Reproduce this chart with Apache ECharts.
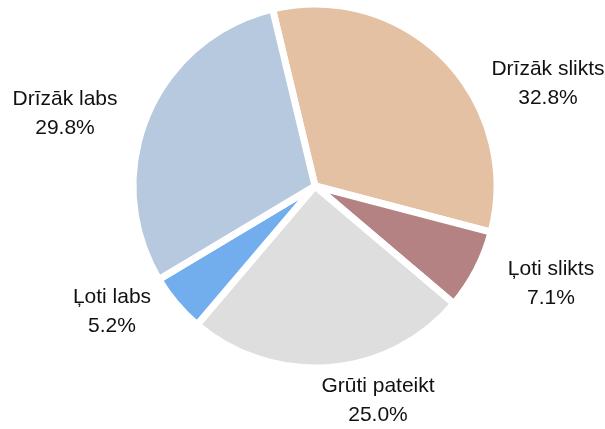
<html>
<head>
<meta charset="utf-8">
<script src="https://cdn.jsdelivr.net/npm/echarts@6/dist/echarts.min.js"></script>
<style>
  body { margin: 0; background: #fff; }
  #main { width: 605px; height: 429px; }
</style>
</head>
<body>
<div id="main"></div>
<script type="text/javascript">
// answers, clockwise from the top
var categories = ['Drīzāk slikts', 'Ļoti slikts', 'Grūti pateikt', 'Ļoti labs', 'Drīzāk labs'];
var shares = [32.8, 7.1, 25.0, 5.2, 29.8];
var colors = ['#E3C1A2', '#B48282', '#DEDEDE', '#72AEEE', '#B7C9DE'];

// where each label block is centred
var labelSpots = [[548, 84], [551, 284], [378, 401], [112, 312], [65, 114]];

var myChart = echarts.init(document.getElementById('main'));

var option = {
  animation: false,
  backgroundColor: '#fff',
  series: [{
    type: 'pie',
    center: [315, 186],
    radius: [0, 182],
    startAngle: 103.5,
    clockwise: true,
    avoidLabelOverlap: false,
    itemStyle: {
      borderColor: '#fff',
      borderWidth: 7
    },
    label: {
      show: true,
      position: 'outside',
      formatter: function (p) {
        return p.name + '\n' + p.value.toFixed(1) + '%';
      },
      fontFamily: 'Liberation Sans, Arial, sans-serif',
      fontSize: 21,
      lineHeight: 29,
      color: '#111',
      align: 'center'
    },
    labelLine: { show: false },
    labelLayout: function (params) {
      var s = labelSpots[params.dataIndex];
      return { x: s[0], y: s[1], align: 'center', verticalAlign: 'middle' };
    },
    emphasis: { disabled: true },
    data: categories.map(function (c, i) {
      return { name: c, value: shares[i], itemStyle: { color: colors[i] } };
    })
  }]
};

myChart.setOption(option);
</script>
</body>
</html>
